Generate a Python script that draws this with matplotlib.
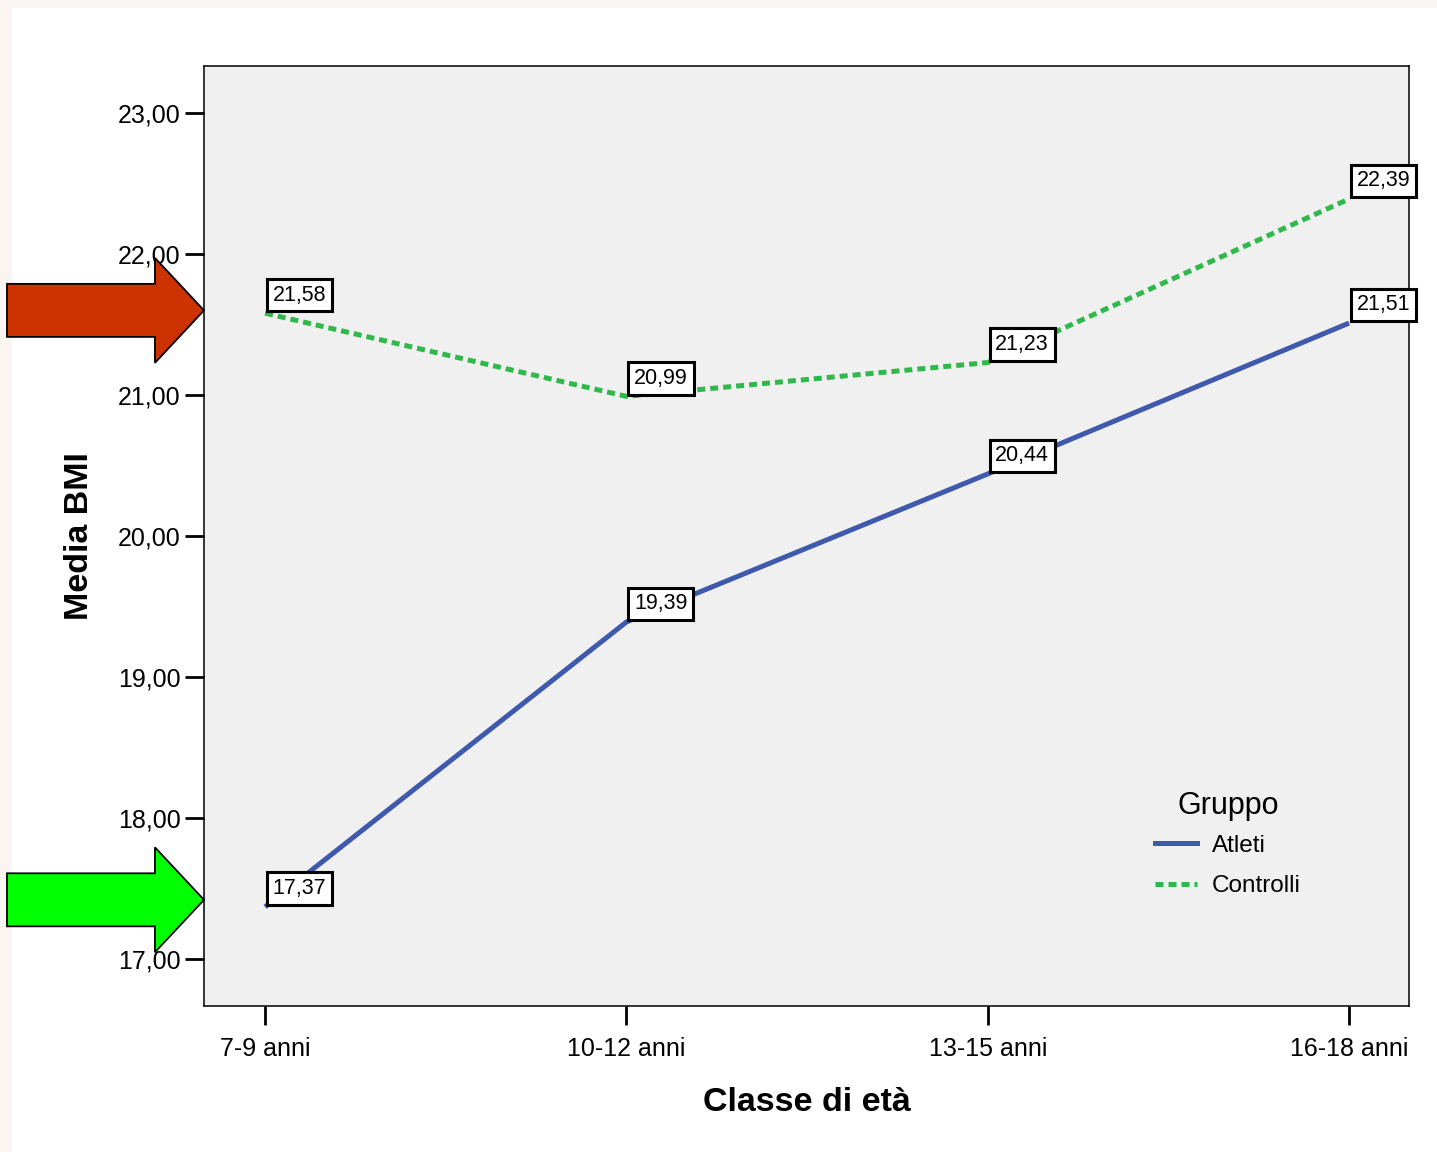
import numpy as np
import matplotlib
matplotlib.use("Agg")
import matplotlib.pyplot as plt
from matplotlib.patches import Polygon, Rectangle
from matplotlib.transforms import blended_transform_factory
from matplotlib.lines import Line2D

plt.rcParams['font.family'] = ['Liberation Sans', 'DejaVu Sans']

# dati
classi = ["7-9 anni", "10-12 anni", "13-15 anni", "16-18 anni"]
atleti = [17.37, 19.39, 20.44, 21.51]
controlli = [21.58, 20.99, 21.23, 22.39]
yticks = [17, 18, 19, 20, 21, 22, 23]

blu = "#3f59ad"
verde = "#30b84b"

fig = plt.figure(figsize=(14.37, 11.52), dpi=100, facecolor="#faf5f2")
fig.add_artist(Rectangle((12 / 1437, 0), 1, 1 - 8 / 1152, transform=fig.transFigure,
                         facecolor="white", edgecolor="none", zorder=-10))

ax = fig.add_axes([204 / 1437, 1 - 1006 / 1152, 1205 / 1437, 940 / 1152])
ax.set_facecolor("#f0f0f0")
x = np.arange(len(classi))

ax.plot(x, atleti, color=blu, lw=3.6, solid_capstyle="butt", zorder=3)
ax.plot(x, controlli, color=verde, lw=3.6, linestyle=(0, (1.6, 1.0)), zorder=3)

# etichette valori
for serie in (atleti, controlli):
    for xi, v in zip(x, serie):
        ax.annotate(f"{v:.2f}".replace(".", ","), (xi, v), xytext=(5.5, 5.5), textcoords="offset points",
                    ha="left", va="bottom", fontsize=15.5, zorder=5, annotation_clip=False,
                    bbox=dict(boxstyle="square,pad=0.27", fc="white", ec="black", lw=2.2))

ax.set_xlim(-0.169, 3.166)
ax.set_ylim(16.667, 23.333)
ax.set_xticks(x)
ax.set_xticklabels(classi)
ax.set_yticks(yticks)
ax.set_yticklabels([f"{t:.2f}".replace(".", ",") for t in yticks])
ax.tick_params(axis="both", direction="out", length=14, width=2, labelsize=18, colors="black")
ax.tick_params(axis="y", pad=3)
ax.tick_params(axis="x", pad=8)
for s in ax.spines.values():
    s.set_linewidth(1.1)

ax.set_xlabel("Classe di età", fontsize=24.5, fontweight="bold", labelpad=19)
ax.set_ylabel("Media BMI", fontsize=24.5, fontweight="bold", labelpad=16)

# frecce
tr = blended_transform_factory(ax.transAxes, ax.transData)
for yv, col in [(controlli[0] + 0.02, "#cc3300"), (atleti[0] + 0.05, "#00ff00")]:
    sh, hh = 0.188, 0.372
    x0, xb, xt = -0.1635, -0.0407, 0.0
    pts = [(x0, yv + sh), (xb, yv + sh), (xb, yv + hh), (xt, yv), (xb, yv - hh), (xb, yv - sh), (x0, yv - sh)]
    ax.add_patch(Polygon(pts, closed=True, transform=tr, facecolor=col, edgecolor="black",
                         lw=1.3, clip_on=False, zorder=6))

# legenda
handles = [Line2D([], [], color=blu, lw=3.6),
           Line2D([], [], color=verde, lw=3.6, linestyle=(0, (1.6, 1.0)))]
leg = ax.legend(handles, ["Atleti", "Controlli"], frameon=False,
                loc="upper left", bbox_to_anchor=(1133 / 1437, 1 - 813 / 1152),
                bbox_transform=fig.transFigure, fontsize=17.5,
                handlelength=1.75, handletextpad=0.6, labelspacing=0.75)
fig.text(1228 / 1437, 1 - 806 / 1152, "Gruppo", fontsize=22, ha="center", va="center")

fig.savefig("out.png", dpi=100, facecolor=fig.get_facecolor())
